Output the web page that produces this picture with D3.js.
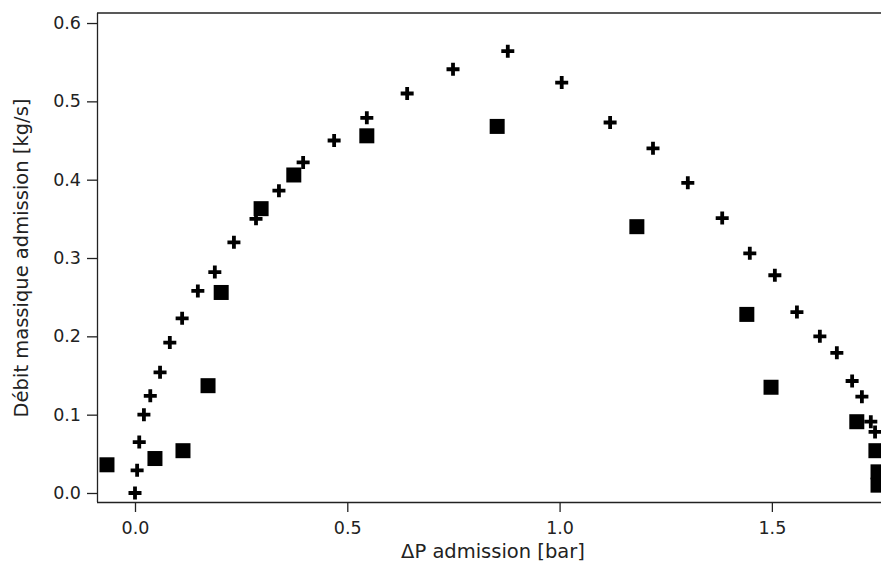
<!DOCTYPE html>
<html><head><meta charset="utf-8">
<script src="https://cdn.jsdelivr.net/npm/d3@7"></script>
<style>
html,body{margin:0;padding:0;background:#fff;overflow:hidden}
svg{display:block}
.tick text{font-family:"DejaVu Sans",sans-serif;font-size:17.5px;fill:#222}
.ttl{font-family:"DejaVu Sans",sans-serif;font-size:19.5px;fill:#222}
</style></head><body>
<svg id="c" width="881" height="567"></svg>
<script>
// Series 1: crosses
const crossX = [0.000,0.005,0.010,0.021,0.036,0.059,0.082,0.111,0.148,0.188,0.233,0.285,0.339,0.396,0.469,0.546,0.641,0.749,0.878,1.005,1.119,1.220,1.302,1.383,1.448,1.507,1.559,1.613,1.653,1.689,1.712,1.733,1.743];
const crossY = [0.000,0.029,0.065,0.100,0.124,0.154,0.192,0.223,0.258,0.282,0.320,0.350,0.386,0.422,0.450,0.479,0.510,0.541,0.564,0.524,0.473,0.440,0.396,0.351,0.306,0.278,0.231,0.200,0.179,0.143,0.123,0.091,0.078];
// Series 2: squares
const sqX = [-0.066,0.047,0.113,0.172,0.203,0.297,0.374,0.546,0.853,1.182,1.441,1.498,1.700,1.745,1.750,1.750];
const sqY = [0.036,0.044,0.054,0.137,0.256,0.363,0.406,0.456,0.468,0.340,0.228,0.135,0.091,0.054,0.027,0.010];
const xTicks = [0.0,0.5,1.0,1.5];
const yTicks = [0.0,0.1,0.2,0.3,0.4,0.5,0.6];

const svg = d3.select("#c");
const L=97, T=13, B=502, R=881;
const x = d3.scaleLinear().domain([-0.0895,1.757]).range([L,R]);
const y = d3.scaleLinear().domain([-0.0115,0.6128]).range([B,T]);

const xAxis = svg.append("g").attr("transform",`translate(0,${B})`)
  .call(d3.axisBottom(x).tickValues(xTicks).tickFormat(d3.format(".1f")).tickSize(10).tickPadding(10).tickSizeOuter(0));
const yAxis = svg.append("g").attr("transform",`translate(${L},0)`)
  .call(d3.axisLeft(y).tickValues(yTicks).tickFormat(d3.format(".1f")).tickSize(10).tickPadding(6).tickSizeOuter(0));
[xAxis,yAxis].forEach(a=>{a.selectAll("path,line").attr("stroke","#222").attr("stroke-width",1.3);});
xAxis.select(".domain").attr("d",`M${L},0.5H${R}`);
yAxis.select(".domain").attr("d",`M0.5,${B}V${T}`);
svg.append("line").attr("x1",L).attr("x2",R).attr("y1",T).attr("y2",T).attr("stroke","#222").attr("stroke-width",1.3);

svg.append("clipPath").attr("id","pc").append("rect").attr("x",L).attr("y",T).attr("width",R-L+10).attr("height",B-T);
const g = svg.append("g").attr("clip-path","url(#pc)");

g.selectAll("rect.sq").data(sqX.map((v,i)=>[v,sqY[i]])).join("rect")
  .attr("class","sq").attr("x",d=>x(d[0])-7.5).attr("y",d=>y(d[1])-7.5)
  .attr("width",15).attr("height",15).attr("fill","#000");

const a=6.5;
g.selectAll("path.cr").data(crossX.map((v,i)=>[v,crossY[i]])).join("path")
  .attr("class","cr")
  .attr("d",d=>`M${x(d[0])-a},${y(d[1])}H${x(d[0])+a}M${x(d[0])},${y(d[1])-a}V${y(d[1])+a}`)
  .attr("stroke","#000").attr("stroke-width",3.8).attr("fill","none");

svg.append("text").attr("class","ttl").attr("x",493).attr("y",558)
  .attr("text-anchor","middle").text("ΔP admission [bar]");
svg.append("text").attr("class","ttl").attr("transform",`translate(28,258) rotate(-90)`)
  .attr("text-anchor","middle").text("Débit massique admission [kg/s]");
</script>
</body></html>
